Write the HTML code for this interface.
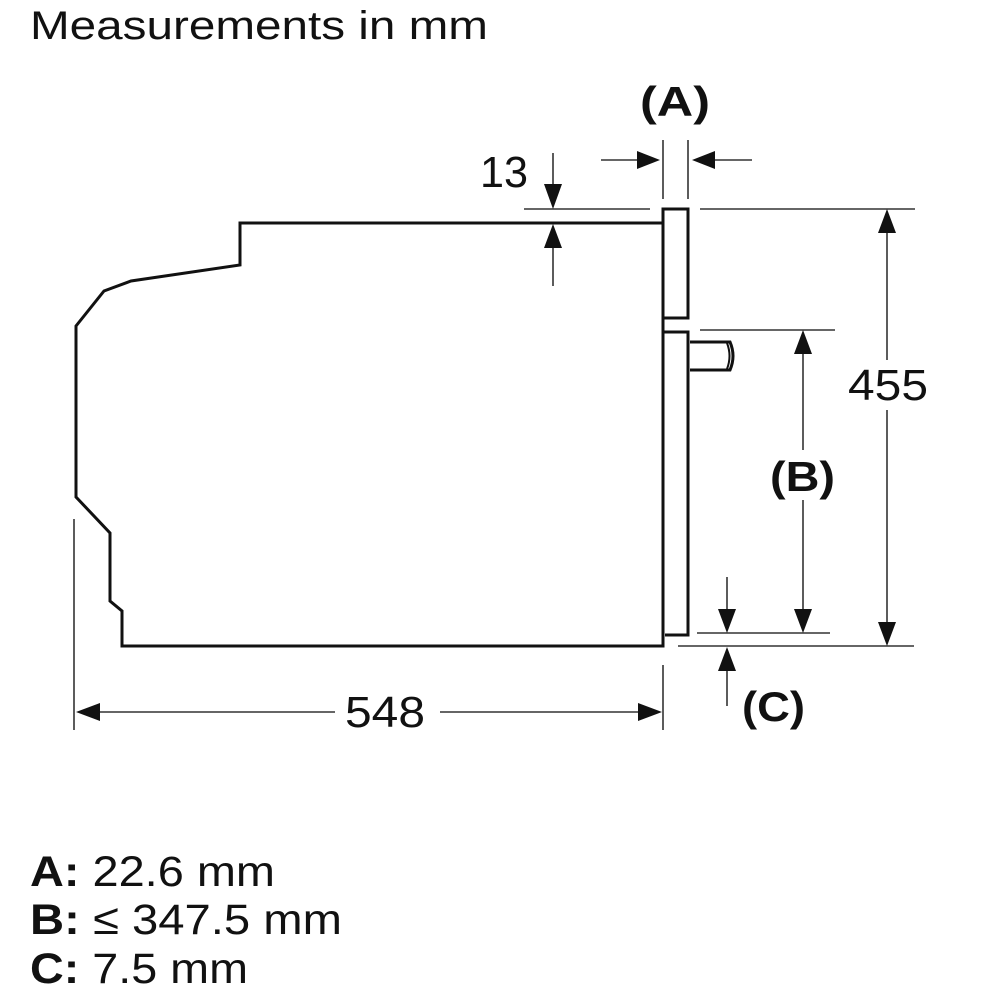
<!DOCTYPE html>
<html><head><meta charset="utf-8"><style>
html,body{margin:0;padding:0;background:#fff;width:1000px;height:1000px;overflow:hidden}
svg{display:block}
text{font-family:"Liberation Sans",Arial,sans-serif;fill:#111}
</style></head><body>
<svg width="1000" height="1000" viewBox="0 0 1000 1000" xmlns="http://www.w3.org/2000/svg">
<text x="30" y="39" font-size="40" textLength="458" lengthAdjust="spacingAndGlyphs">Measurements in mm</text>
<g fill="none" stroke="#111" stroke-width="3" stroke-linejoin="miter">
<polyline points="663,223 240,223 240,265 131,281 104,291 76,326 76,497 110,533 110,601 122,611 122,646 663,646 663,223"/>
<rect x="663" y="209" width="25" height="109"/>
<polyline points="663,332 688,332 688,635 665,635"/>
<path d="M690,342 H730 Q736,356 730,370 H690"/>
<path d="M727,343 Q732,356 727,369" stroke-width="2"/>
</g>
<g stroke="#333" stroke-width="1.6" fill="none">
<line x1="524" y1="209" x2="650" y2="209"/>
<line x1="700" y1="209" x2="915" y2="209"/>
<line x1="663" y1="140" x2="663" y2="199"/>
<line x1="688" y1="140" x2="688" y2="199"/>
<line x1="601" y1="160" x2="640" y2="160"/>
<line x1="712" y1="160" x2="752" y2="160"/>
<line x1="553" y1="153" x2="553" y2="190"/>
<line x1="553" y1="240" x2="553" y2="286"/>
<line x1="700" y1="330" x2="835" y2="330"/>
<line x1="697" y1="633" x2="830" y2="633"/>
<line x1="678" y1="646" x2="914" y2="646"/>
<line x1="803" y1="350" x2="803" y2="450"/>
<line x1="803" y1="500" x2="803" y2="615"/>
<line x1="887" y1="228" x2="887" y2="360"/>
<line x1="887" y1="410" x2="887" y2="628"/>
<line x1="727" y1="577" x2="727" y2="615"/>
<line x1="727" y1="665" x2="727" y2="706"/>
<line x1="74" y1="519" x2="74" y2="730"/>
<line x1="663" y1="665" x2="663" y2="730"/>
<line x1="95" y1="712" x2="335" y2="712"/>
<line x1="440" y1="712" x2="645" y2="712"/>
</g>
<g fill="#111">
<polygon points="660,160 637,151 637,169"/>
<polygon points="692,160 715,151 715,169"/>
<polygon points="553,209 544,184 562,184"/>
<polygon points="553,224 544,248 562,248"/>
<polygon points="803,330 794,354 812,354"/>
<polygon points="803,633 794,609 812,609"/>
<polygon points="887,209 878,233 896,233"/>
<polygon points="887,646 878,622 896,622"/>
<polygon points="727,633 718,609 736,609"/>
<polygon points="727,647 718,671 736,671"/>
<polygon points="76,712 100,703 100,721"/>
<polygon points="662,712 638,703 638,721"/>
</g>
<text x="640" y="116" font-size="42" font-weight="bold" textLength="70" lengthAdjust="spacingAndGlyphs">(A)</text>
<text x="480" y="187" font-size="44" textLength="48" lengthAdjust="spacingAndGlyphs">13</text>
<text x="848" y="400" font-size="44" textLength="80" lengthAdjust="spacingAndGlyphs">455</text>
<text x="770" y="491" font-size="42" font-weight="bold" textLength="65" lengthAdjust="spacingAndGlyphs">(B)</text>
<text x="742" y="721" font-size="42" font-weight="bold" textLength="63" lengthAdjust="spacingAndGlyphs">(C)</text>
<text x="345" y="727" font-size="44" textLength="80" lengthAdjust="spacingAndGlyphs">548</text>
<text x="30" y="886" font-size="43" textLength="245" lengthAdjust="spacingAndGlyphs"><tspan font-weight="bold">A:</tspan> 22.6 mm</text>
<text x="30" y="934" font-size="43" textLength="312" lengthAdjust="spacingAndGlyphs"><tspan font-weight="bold">B:</tspan> ≤ 347.5 mm</text>
<text x="30" y="983" font-size="43" textLength="218" lengthAdjust="spacingAndGlyphs"><tspan font-weight="bold">C:</tspan> 7.5 mm</text>
</svg>
</body></html>
